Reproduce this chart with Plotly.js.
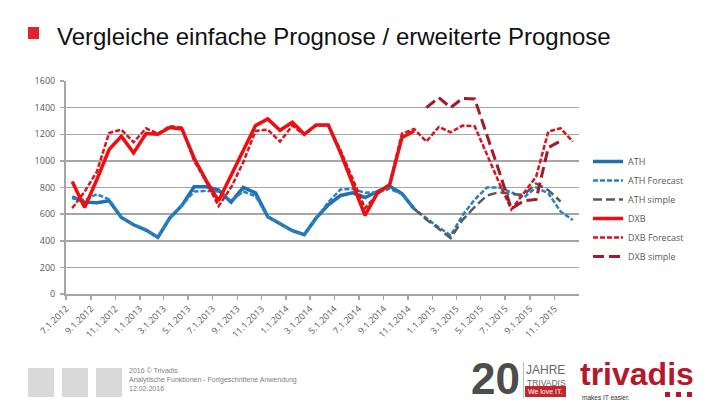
<!DOCTYPE html>
<html>
<head>
<meta charset="utf-8">
<script src="https://cdn.plot.ly/plotly-3.0.1.min.js"></script>
<style>
html,body{margin:0;padding:0;background:#fff;}
#chart{width:720px;height:405px;}
</style>
</head>
<body>
<div id="chart"></div>
<script>
// ---- data ----
const months = ["2012-07","2012-08","2012-09","2012-10","2012-11","2012-12",
  "2013-01","2013-02","2013-03","2013-04","2013-05","2013-06","2013-07","2013-08","2013-09","2013-10","2013-11","2013-12",
  "2014-01","2014-02","2014-03","2014-04","2014-05","2014-06","2014-07","2014-08","2014-09","2014-10","2014-11","2014-12",
  "2015-01","2015-02","2015-03","2015-04","2015-05","2015-06","2015-07","2015-08","2015-09","2015-10","2015-11","2015-12"];

const tickDates = ["2012-07-01","2012-09-01","2012-11-01","2013-01-01","2013-03-01","2013-05-01","2013-07-01",
  "2013-09-01","2013-11-01","2014-01-01","2014-03-01","2014-05-01","2014-07-01","2014-09-01","2014-11-01",
  "2015-01-01","2015-03-01","2015-05-01","2015-07-01","2015-09-01","2015-11-01"];
const tickLabels = ["7.1.2012","9.1.2012","11.1.2012","1.1.2013","3.1.2013","5.1.2013","7.1.2013",
  "9.1.2013","11.1.2013","1.1.2014","3.1.2014","5.1.2014","7.1.2014","9.1.2014","11.1.2014",
  "1.1.2015","3.1.2015","5.1.2015","7.1.2015","9.1.2015","11.1.2015"];

const ath = [730,690,685,700,575,520,480,425,570,665,805,805,780,690,800,760,580,530,
  475,445,570,670,740,760,725,770,810,755,640,
  null,null,null,null,null,null,null,null,null,null,null,null,null];
const athForecast = [720,705,750,710,580,520,480,425,570,665,770,775,770,700,770,735,580,530,
  475,445,570,690,785,790,760,765,790,750,640,570,
  500,440,590,710,800,800,760,725,800,756,620,556];
const athSimple = [null,null,null,null,null,null,null,null,null,null,null,null,null,null,null,null,null,null,
  null,null,null,null,null,null,null,null,null,null,640,560,
  490,420,555,655,740,765,750,745,830,780,695,null];
const dxb = [845,650,860,1085,1185,1060,1205,1200,1250,1240,1020,850,700,890,1090,1265,1315,1230,
  1290,1200,1270,1270,1060,830,590,760,820,1175,1225,
  null,null,null,null,null,null,null,null,null,null,null,null,null];
const dxbForecast = [645,770,920,1210,1235,1140,1245,1205,1260,1250,1000,840,660,800,990,1225,1235,1145,
  1265,1195,1265,1265,1080,860,645,750,830,1205,1240,1145,
  1255,1215,1265,1260,1045,835,635,755,880,1220,1245,1145];
const dxbSimple = [null,null,null,null,null,null,null,null,null,null,null,null,null,null,null,null,null,null,
  null,null,null,null,null,null,null,null,null,null,null,1400,
  1475,1400,1470,1465,1200,920,640,700,710,1100,1150,null];

const seriesNames = ["ATH","ATH Forecast","ATH simple","DXB","DXB Forecast","DXB simple"];
const titleText = "Vergleiche einfache Prognose / erweiterte Prognose";
const footerLines = ["2016 © Trivadis","Analytische Funktionen - Fortgeschrittene Anwendung","12.02.2016"];

// ---- geometry helpers (plot area in pixels) ----
const L = 66, R = 141, T = 81, B = 111, W = 720 - L - R, H = 405 - T - B;
const px = x => (x - L) / W;
const py = y => (T + H - y) / H;

function tr(name, y, color, width, dash) {
  return {
    type: "scatter", mode: "lines", name: name,
    x: months, y: y,
    xperiod: "M1", xperiodalignment: "middle",
    line: {color: color, width: width, dash: dash},
    hoverinfo: "skip"
  };
}

const data = [
  tr(seriesNames[0], ath, "#1f6fb2", 3.5, "solid"),
  tr(seriesNames[1], athForecast, "#2a80c2", 2.5, "5px,2px"),
  tr(seriesNames[2], athSimple, "#595959", 2.5, "9px,4px"),
  tr(seriesNames[3], dxb, "#f20d0d", 3.5, "solid"),
  tr(seriesNames[4], dxbForecast, "#d9141f", 2.5, "5px,2px"),
  tr(seriesNames[5], dxbSimple, "#9e1b2a", 3, "11px,5px")
];

const gridCol = "#a6a6a6";
const tickFont = {family: "Open Sans, Lato, sans-serif", size: 9, color: "#595959"};

const shapes = [
  {type: "rect", xref: "paper", yref: "paper", x0: px(28), x1: px(39), y0: py(39), y1: py(27),
   fillcolor: "#e3202e", line: {width: 0}},
  {type: "rect", xref: "paper", yref: "paper", x0: px(28), x1: px(54), y0: py(397), y1: py(368),
   fillcolor: "#d9d9d9", line: {width: 0}},
  {type: "rect", xref: "paper", yref: "paper", x0: px(62), x1: px(88), y0: py(397), y1: py(368),
   fillcolor: "#d9d9d9", line: {width: 0}},
  {type: "rect", xref: "paper", yref: "paper", x0: px(96), x1: px(122), y0: py(397), y1: py(368),
   fillcolor: "#d9d9d9", line: {width: 0}},
  {type: "rect", xref: "paper", yref: "paper", x0: px(525), x1: px(566), y0: py(397), y1: py(386),
   fillcolor: "#c1272d", line: {width: 0}},
  {type: "line", xref: "paper", yref: "paper", x0: px(523.5), x1: px(523.5), y0: py(398), y1: py(362),
   line: {color: "#bfbfbf", width: 1}},
  {type: "rect", xref: "paper", yref: "paper", x0: px(665), x1: px(670), y0: py(397), y1: py(392),
   fillcolor: "#b5182b", line: {width: 0}},
  {type: "rect", xref: "paper", yref: "paper", x0: px(676), x1: px(681), y0: py(397), y1: py(392),
   fillcolor: "#b5182b", line: {width: 0}},
  {type: "rect", xref: "paper", yref: "paper", x0: px(687), x1: px(692), y0: py(397), y1: py(392),
   fillcolor: "#b5182b", line: {width: 0}}
];

function ann(text, x, y, size, color, opts) {
  return Object.assign({
    text: text, xref: "paper", yref: "paper", x: px(x), y: py(y),
    xanchor: "left", yanchor: "middle", showarrow: false, borderpad: 0,
    font: {family: "Liberation Sans, Arial, sans-serif", size: size, color: color}
  }, opts || {});
}

const annotations = [
  ann(titleText, 56, 37, 24, "#111111"),
  ann(footerLines.join("<br>"), 128, 379, 7, "#808080", {align: "left"}),
  ann("<b>20</b>", 470, 404, 44, "#4d4d4d", {yanchor: "bottom"}),
  ann("JAHRE", 525, 362, 12, "#666666", {yanchor: "top"}),
  ann("TRIVADIS", 526, 376.5, 8.5, "#666666", {yanchor: "top"}),
  ann("We love IT.", 545.5, 391.5, 7, "#ffffff", {xanchor: "center"}),
  ann("<b>trivadis</b>", 579, 393, 32, "#b5182b", {yanchor: "bottom"}),
  ann("makes IT easier.", 581, 393, 6.5, "#333333", {yanchor: "top"})
];

const layout = {
  width: 720, height: 405,
  margin: {l: L, r: R, t: T, b: B},
  paper_bgcolor: "#ffffff", plot_bgcolor: "#ffffff",
  showlegend: true,
  legend: {
    x: px(588), y: py(147), xanchor: "left", yanchor: "top",
    font: {family: "Open Sans, Lato, sans-serif", size: 9, color: "#595959"},
    bgcolor: "rgba(0,0,0,0)", itemwidth: 30, tracegroupgap: 0
  },
  xaxis: {
    type: "date",
    range: ["2012-07-01", "2016-01-01"],
    tickmode: "array", tickvals: tickDates, ticktext: tickLabels,
    tickangle: -45, tickfont: tickFont,
    showgrid: false, zeroline: false,
    showline: true, linecolor: gridCol, linewidth: 2,
    ticks: "outside", ticklen: 4, tickcolor: gridCol, tickwidth: 1.5
  },
  yaxis: {
    range: [0, 1600], tickmode: "linear", tick0: 0, dtick: 200,
    tickfont: tickFont,
    showgrid: true, gridcolor: gridCol, gridwidth: 1.5,
    zeroline: false,
    showline: true, linecolor: gridCol, linewidth: 2,
    ticks: "outside", ticklen: 4, tickcolor: gridCol, tickwidth: 1.5,
    ticklabelstandoff: 3
  },
  shapes: shapes,
  annotations: annotations
};

Plotly.newPlot("chart", data, layout, {staticPlot: true, displayModeBar: false});
</script>
</body>
</html>
